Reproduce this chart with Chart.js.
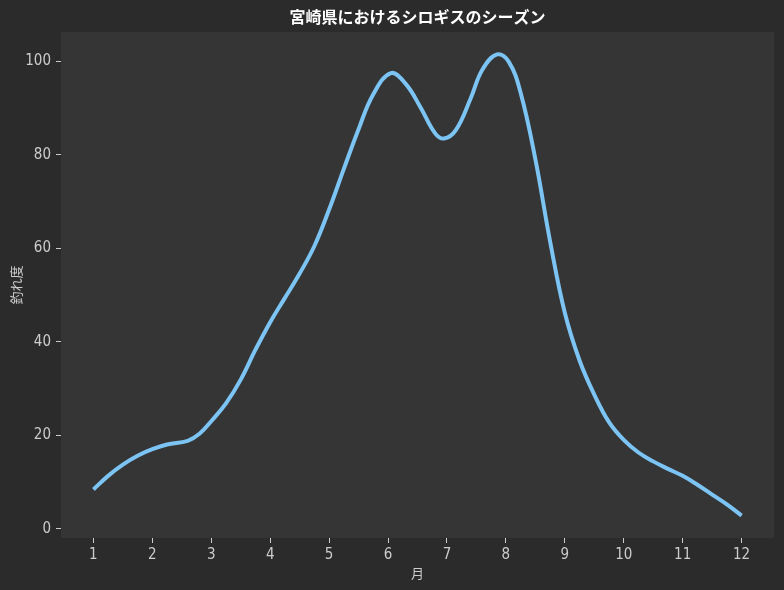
<!DOCTYPE html>
<html>
<head>
<meta charset="utf-8">
<script src="https://cdn.jsdelivr.net/npm/chart.js@4"></script>
<style>
html,body{margin:0;padding:0;background:#2b2b2b;}
canvas{display:block;}
</style>
</head>
<body>
<canvas id="c" width="784" height="590"></canvas>
<script>
const months = [1, 1.25, 1.5, 1.75, 2, 2.25, 2.6, 2.8, 3, 3.25, 3.5, 3.75, 4, 4.25, 4.5, 4.75, 5, 5.25, 5.5, 5.75, 6.05, 6.3, 6.55, 6.8, 6.95, 7.15, 7.4, 7.6, 7.85, 8.05, 8.25, 8.5, 8.75, 9, 9.25, 9.5, 9.75, 10, 10.25, 10.5, 10.75, 11, 11.25, 11.5, 11.75, 12];
const catchLevel = [8.4, 11.3, 13.7, 15.6, 17.0, 18.0, 18.8, 20.3, 23.0, 26.8, 31.9, 38.3, 44.2, 49.4, 54.6, 60.5, 68.3, 77.0, 85.5, 93.0, 97.5, 95.2, 90.2, 84.6, 83.5, 85.3, 92.0, 98.2, 101.5, 99.9, 93.3, 79.1, 61.5, 46.2, 36.0, 28.7, 22.8, 19.0, 16.3, 14.4, 12.8, 11.3, 9.4, 7.3, 5.2, 2.8];
const xTicks = [1,2,3,4,5,6,7,8,9,10,11,12];
const yTicks = [0,20,40,60,80,100];
const titleText = '宮崎県におけるシロギスのシーズン';
const xLabel = '月';
const yLabel = '釣れ度';

const FONT = "'Noto Sans CJK JP', 'Noto Sans', sans-serif";
const TICKFONT = "'Liberation Sans Narrow', 'DejaVu Sans Condensed', 'Noto Sans CJK JP', sans-serif";

const bgPlugin = {
  id: 'bg',
  beforeDraw(chart) {
    const {ctx, chartArea: a} = chart;
    ctx.save();
    ctx.fillStyle = '#2b2b2b';
    ctx.fillRect(0, 0, chart.width, chart.height);
    ctx.fillStyle = '#353535';
    ctx.fillRect(a.left, a.top, a.right - a.left, a.bottom - a.top);
    ctx.restore();
  },
  afterDraw(chart) {
    const {ctx, chartArea: a} = chart;
    ctx.save();
    ctx.fillStyle = '#ffffff';
    ctx.font = "bold 16px " + FONT;
    ctx.textAlign = 'center';
    ctx.textBaseline = 'middle';
    ctx.fillText(titleText, (a.left + a.right) / 2, 17);
    ctx.restore();
  }
};

new Chart(document.getElementById('c'), {
  type: 'line',
  data: {
    datasets: [{
      data: months.map((m, i) => ({x: m, y: catchLevel[i]})),
      borderColor: '#7cc4f3',
      borderWidth: 4,
      pointRadius: 0,
      fill: false,
      tension: 0.4,
      borderCapStyle: 'butt',
      borderJoinStyle: 'round'
    }]
  },
  options: {
    responsive: false,
    animation: false,
    devicePixelRatio: 1,
    layout: {padding: {left: 0, right: 10, top: 32, bottom: 0}},
    plugins: {legend: {display: false}, tooltip: {enabled: false}, title: {display: false}},
    scales: {
      x: {
        type: 'linear',
        min: 0.45,
        max: 12.55,
        afterBuildTicks(s) { s.ticks = xTicks.map(v => ({value: v})); },
        afterFit(s) { s.height = 52; },
        grid: {display: true, drawOnChartArea: false, drawTicks: true, tickLength: 5, tickColor: '#cccccc', tickWidth: 1},
        border: {display: false},
        ticks: {color: '#cccccc', font: {family: TICKFONT, size: 15}, padding: 3, maxRotation: 0, autoSkip: false},
        title: {display: true, text: xLabel, color: '#cccccc', font: {family: FONT, size: 13}, padding: {top: 0, bottom: 9}}
      },
      y: {
        type: 'linear',
        min: -2.0,
        max: 106.3,
        afterBuildTicks(s) { s.ticks = yTicks.map(v => ({value: v})); },
        afterFit(s) { s.width = 61; },
        grid: {display: true, drawOnChartArea: false, drawTicks: true, tickLength: 5, tickColor: '#cccccc', tickWidth: 1},
        border: {display: false},
        ticks: {color: '#cccccc', font: {family: TICKFONT, size: 15}, padding: 5},
        title: {display: true, text: yLabel, color: '#cccccc', font: {family: FONT, size: 13}, padding: {top: 8, bottom: 0}}
      }
    }
  },
  plugins: [bgPlugin]
});
</script>
</body>
</html>
